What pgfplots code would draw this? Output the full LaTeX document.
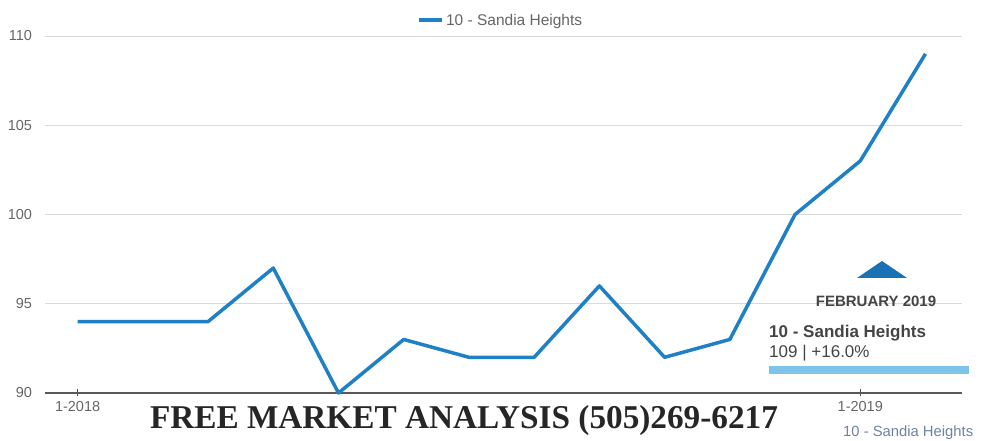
\documentclass[border=0pt]{standalone}
\usepackage{pgfplots}
\pgfplotsset{compat=1.18}
\usepackage{fontspec}
\setmainfont{Liberation Sans}
\newfontfamily\serifbold{Liberation Serif}
\definecolor{lineblue}{HTML}{1F80C6}
\definecolor{triblue}{HTML}{1A72B5}
\definecolor{barblue}{HTML}{7DC3EA}
\definecolor{ticktext}{HTML}{666666}
\definecolor{darktext}{HTML}{444444}
\definecolor{bottomtext}{HTML}{6E82A3}
\pgfplotstableread{
x y
0 94
1 94
2 94
3 97
4 90
5 93
6 92
7 92
8 96
9 92
10 93
11 100
12 103
13 109
}\sandia
\begin{document}
\begin{tikzpicture}
\useasboundingbox (0pt,0pt) rectangle (982pt,441pt);
\begin{axis}[
  at={(45pt,48pt)}, anchor=south west,
  scale only axis, width=917pt, height=357pt,
  xmin=-0.5, xmax=13.56, ymin=90, ymax=110,
  ytick={90,95,100,105,110},
  xtick={0,12}, xticklabels={1-2018,1-2019},
  ymajorgrids, grid style={gray!30, line width=0.9pt},
  axis x line*=bottom, axis y line*=left,
  y axis line style={draw=none},
  x axis line style={black!65, line width=1.1pt, -},
  ytick style={draw=none},
  xtick style={black!70, line width=0.8pt},
  major tick length=7pt, tick align=center,
  ticklabel style={font=\fontsize{14.5}{16}\selectfont, text=ticktext},
  /pgf/number format/assume math mode=true,
  yticklabel style={xshift=-6pt},
  xticklabel style={yshift=-1pt},
  legend style={at={(0.497,1)}, anchor=south, yshift=5pt, draw=none,
    font=\fontsize{15.5}{17}\selectfont, text=ticktext},
  legend image code/.code={\draw[lineblue, line width=4pt] (0,0) -- (0.8cm,0);},
  clip=false,
]
\addplot[lineblue, line width=3.5pt, line join=round] table[x=x,y=y] {\sandia};
\addlegendentry{10 - Sandia Heights}
\end{axis}
% annotation overlay
\fill[triblue] (857pt,163pt) -- (907pt,163pt) -- (882pt,180pt) -- cycle;
\node[anchor=center, text=darktext, font=\bfseries\fontsize{15}{17}\selectfont] at (876pt,140pt) {FEBRUARY 2019};
\node[anchor=west, inner sep=0pt, text=darktext, font=\bfseries\fontsize{17}{19}\selectfont] at (769pt,108pt) {10 - Sandia Heights};
\node[anchor=west, inner sep=0pt, text=darktext, font=\fontsize{17}{19}\selectfont] at (769pt,88pt) {109 | +16.0\%};
\fill[barblue] (769pt,67pt) rectangle (969pt,75pt);
\node[anchor=west, inner sep=0pt, text=bottomtext, font=\fontsize{14.8}{17}\selectfont] at (843pt,8pt) {10 - Sandia Heights};
\node[anchor=center, inner sep=0pt, text=black!85] at (464pt,20pt) {\resizebox{628pt}{!}{\serifbold\bfseries FREE MARKET ANALYSIS (505)269-6217}};
\end{tikzpicture}
\end{document}
